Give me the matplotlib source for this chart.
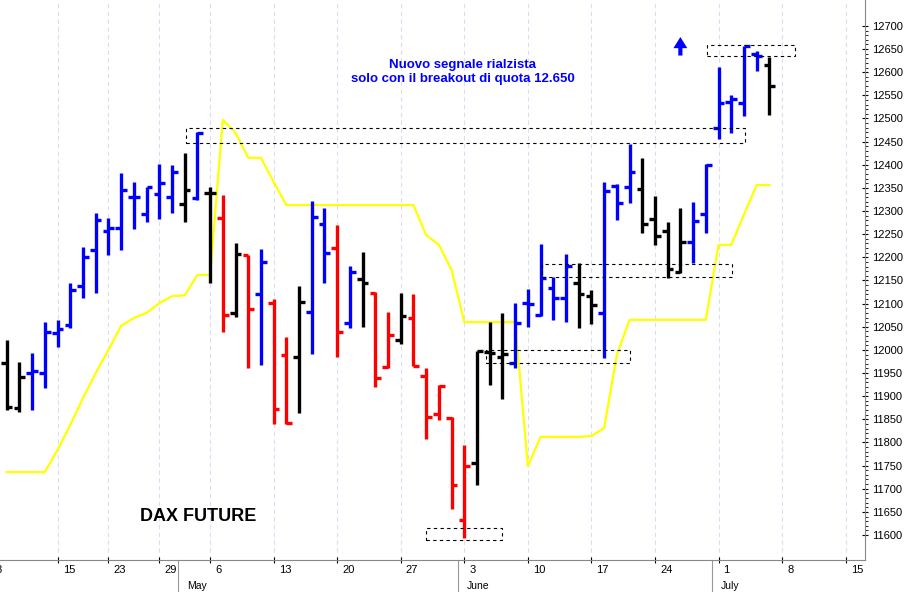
import numpy as np
import matplotlib.pyplot as plt
from matplotlib.patches import Rectangle

# daily OHLC, DAX future, 9 Apr - 5 Jul (trading-day index 1..61)
opens = [11972, 11874, 11950, 11950, 12037, 12054, 12138, 12216, 12257, 12263,
         12330, 12294, 12337, 12330, 12315, 12328, 12339, 12285, 12080, 12205,
         12121, 12101, 11989, 11985, 12082, 12272, 12220, 12058, 12153, 12123,
         11963, 12021, 12069, 11944, 11861, 11853, 11632, 11756, 11995, 11985,
         11972, 12101, 12075, 12134, 12112, 12145, 12116, 12080, 12354, 12352,
         12348, 12283, 12257, 12168, 12233, 12294, 12480, 12536, 12534, 12640, 12616]
highs = [12021, 11974, 11993, 12060, 12065, 12145, 12222, 12296, 12285, 12382,
         12363, 12352, 12402, 12400, 12426, 12471, 12352, 12335, 12231, 12205,
         12218, 12110, 12028, 12138, 12322, 12307, 12270, 12181, 12212, 12125,
         12082, 12123, 12121, 11961, 11924, 11855, 11795, 11998, 12060, 12080,
         12101, 12132, 12229, 12158, 12207, 12188, 12129, 12363, 12359, 12445,
         12415, 12333, 12276, 12307, 12320, 12402, 12611, 12551, 12657, 12646, 12633]
lows = [11870, 11866, 11870, 11918, 12006, 12047, 12112, 12123, 12205, 12216,
        12261, 12276, 12283, 12296, 12276, 12324, 12145, 12039, 12071, 11961,
        11967, 11840, 11840, 11864, 11991, 12145, 11985, 12047, 12050, 11920,
        11961, 12013, 11965, 11807, 11849, 11656, 11594, 11708, 11924, 11894,
        11961, 12050, 12073, 12065, 12060, 12047, 12056, 11982, 12281, 12317,
        12253, 12227, 12155, 12166, 12188, 12253, 12456, 12469, 12505, 12603, 12508]
closes = [11877, 11941, 11954, 12039, 12045, 12129, 12201, 12281, 12263, 12346,
          12330, 12352, 12361, 12384, 12346, 12469, 12339, 12075, 12207, 12088,
          12190, 11872, 11842, 12104, 12287, 12209, 12039, 12168, 12145, 11939,
          12032, 12073, 11965, 11855, 11922, 11708, 11749, 11998, 11993, 11991,
          12058, 12099, 12155, 12112, 12181, 12121, 12097, 12343, 12317, 12384,
          12272, 12246, 12175, 12233, 12279, 12400, 12534, 12542, 12657, 12635, 12570]
colors = "kkbbbbbbbbbbbbkbkrkrbrrkbbrbkrrkrrrrrkkkbbbbbkkbbbkkkkbbbbbbk"

stop_line = [11736, 11736, 11736, 11736, 11784, 11838, 11896, 11950, 12000, 12052,
             12069, 12080, 12101, 12116, 12118, 12162, 12162, 12497, 12469, 12415,
             12415, 12363] + [12313] * 11 + [12248, 12227, 12173] + [12060] * 5 + \
            [11749, 11812, 11812, 11812, 11812, 11814, 11831, 11989] + [12065] * 7 + \
            [12227, 12227, 12292, 12356, 12356]

# zones: (first index, last index, low, high)
zones = [(15.1, 59.1, 12447, 12480), (34.0, 40.0, 11589, 11615),
         (38.7, 50.05, 11972, 12000), (43.1, 58.1, 12158, 12186),
         (56.1, 63.0, 12635, 12659)]

week_idx = [5, 9, 13, 17, 22, 27, 32, 37, 42, 47, 52, 57, 62, 67]
week_lbl = ["15", "23", "29", "6", "13", "20", "27", "3", "10", "17", "24", "1", "8", "15"]
months = [(15, "May"), (37, "June"), (57, "July")]

cmap = {"k": "black", "b": "#0000ff", "r": "#ff0000"}

fig = plt.figure(figsize=(9.15, 5.92), dpi=100)
ax = fig.add_axes([0.0, 0.054, 0.945, 0.946])
x = np.arange(1, len(opens) + 1)

ax.plot(x, stop_line, color="#ffff00", lw=1.6, zorder=2)
for i, o, h, l, c, col in zip(x, opens, highs, lows, closes, colors):
    cc = cmap[col]
    ax.vlines(i, l, h, color=cc, lw=2.4, zorder=3)
    ax.hlines(o, i - 0.45, i, color=cc, lw=2.4, zorder=3)
    ax.hlines(c, i, i + 0.45, color=cc, lw=2.4, zorder=3)

for x0, x1, lo, hi in zones:
    ax.add_patch(Rectangle((x0, lo), x1 - x0, hi - lo, fill=False, ls=(0, (3, 3)),
                           lw=0.8, ec="black", zorder=4))

ax.annotate("", xy=(54, 12676), xytext=(54, 12636),
            arrowprops=dict(width=3, headwidth=10, headlength=8,
                            color="#0000ff", lw=0))
ax.text(36.85, 12600, "Nuovo segnale rialzista\nsolo con il breakout di quota 12.650",
        color="#0000ff", fontsize=9.5, fontweight="bold", ha="center", va="center",
        family="Liberation Sans")
ax.text(11.5, 11641, "DAX FUTURE", fontsize=13, fontweight="bold", ha="left",
        va="center", family="Liberation Sans")

ax.set_xlim(0.47, 68.5)
ax.set_ylim(11546, 12756)
for w in week_idx:
    ax.axvline(w, color="#dcdcf2", lw=0.8, ls=(0, (4, 3)), zorder=1)

ax.yaxis.tick_right()
ax.set_yticks(np.arange(11600, 12701, 50))
ax.set_yticks(np.arange(11600, 12701, 10), minor=True)
ax.tick_params(axis="y", which="major", labelsize=8, length=4, direction="inout")
ax.tick_params(axis="y", which="minor", length=2)
ax.set_xticks(week_idx)
ax.set_xticklabels([])
ax.tick_params(axis="x", length=4, direction="inout")
xt = ax.get_xaxis_transform()
for w, lbl in zip(week_idx, week_lbl):
    ax.text(w + 0.4, -0.009, lbl, transform=xt, fontsize=8,
            ha="left", va="top", family="Liberation Sans")
ax.text(0.1, -0.009, "8", transform=xt, fontsize=8,
        ha="left", va="top", family="Liberation Sans", clip_on=False)
for m, lbl in months:
    ax.text(m + 0.2, -0.037, lbl, transform=xt, fontsize=7.5,
            ha="left", va="top", family="Liberation Sans")
    ax.plot([m - 0.5, m - 0.5], [0, -0.06], transform=xt,
            color="#999999", lw=0.8, clip_on=False)
for lbl in ax.get_yticklabels():
    lbl.set_family("Liberation Sans")
for s in ["top", "left"]:
    ax.spines[s].set_visible(False)
ax.spines["right"].set_color("#888888")
ax.spines["bottom"].set_color("#888888")

fig.savefig("out.png", dpi=100)
